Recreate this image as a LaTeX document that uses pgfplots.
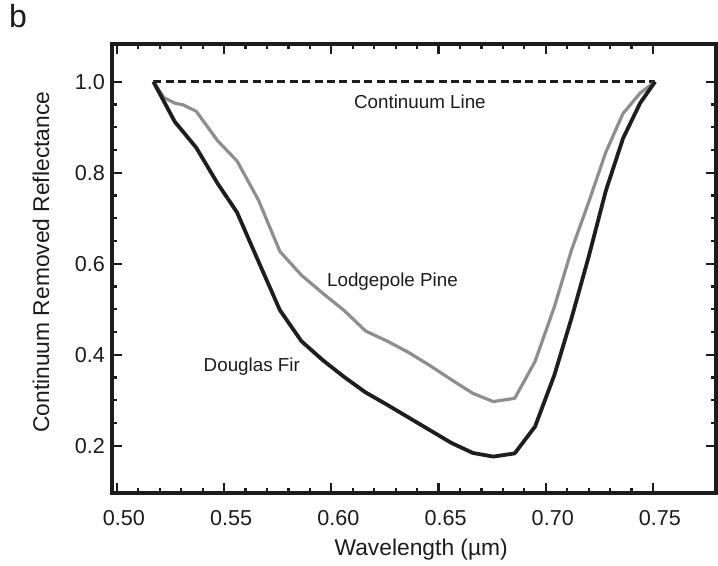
\documentclass[border=0pt]{standalone}
\usepackage{fontspec}
\setmainfont{Liberation Sans}
\usepackage{pgfplots}
\pgfplotsset{compat=1.18}
\definecolor{fir}{HTML}{1E1E1E}
\definecolor{pine}{HTML}{8E8E8E}
\definecolor{ink}{HTML}{1C1C1C}

\begin{document}
\begin{tikzpicture}
\useasboundingbox (-56pt,-36.5pt) rectangle (303pt,246.5pt);
\begin{axis}[
  at={(0,0)}, anchor=south west,
  scale only axis, width=302pt, height=224.5pt,
  xmin=0.4977, xmax=0.7794, ymin=0.096, ymax=1.083,
  axis line style={line width=1.9pt, ink},
  xtick={0.50,0.55,0.60,0.65,0.70,0.75},
  ytick={0.2,0.4,0.6,0.8,1.0},
  minor x tick num=4, minor y tick num=3,
  tick pos=both, tick align=inside,
  major tick length=5pt, minor tick length=2.6pt,
  every tick/.style={ink, line width=1.1pt},
  /pgf/number format/assume math mode=true,
  xticklabel style={/pgf/number format/.cd, fixed, fixed zerofill, precision=2, /tikz/.cd,
    font=\fontsize{10.8}{12}\selectfont, text=ink, anchor=center, yshift=-12.5pt, xshift=3.5pt},
  yticklabel style={/pgf/number format/.cd, fixed, fixed zerofill, precision=1, /tikz/.cd,
    font=\fontsize{10.8}{12}\selectfont, text=ink},
  xlabel={Wavelength (µm)},
  ylabel={Continuum Removed Reflectance},
  every axis x label/.style={at={(axis description cs:0.512,-0.125)}, anchor=center,
    font=\fontsize{11.4}{13}\selectfont, text=ink},
  every axis y label/.style={at={(axis description cs:-0.1175,0.514)}, anchor=center, rotate=90,
    font=\fontsize{11.4}{13}\selectfont, text=ink},
  clip=false,
]
% continuum line
\addplot[ink, line width=1.4pt, dash pattern=on 4pt off 2.2pt] coordinates {(0.517,1.0) (0.751,1.0)};
% Lodgepole Pine
\addplot[pine, line width=1.6pt, line join=round] coordinates {
 (0.517,1.000) (0.522,0.965) (0.527,0.953) (0.531,0.949) (0.537,0.935)
 (0.547,0.870) (0.556,0.826) (0.566,0.740) (0.576,0.627) (0.586,0.575)
 (0.596,0.535) (0.606,0.497) (0.616,0.452) (0.626,0.430) (0.636,0.405)
 (0.646,0.376) (0.656,0.345) (0.666,0.315) (0.6755,0.297) (0.6855,0.304)
 (0.695,0.385) (0.704,0.505) (0.712,0.630) (0.720,0.735) (0.728,0.845)
 (0.736,0.930) (0.744,0.975) (0.751,1.000)};
% Douglas Fir
\addplot[fir, line width=1.9pt, line join=round] coordinates {
 (0.517,1.000) (0.527,0.912) (0.537,0.855) (0.547,0.776) (0.556,0.713)
 (0.566,0.605) (0.576,0.498) (0.586,0.430) (0.596,0.388) (0.606,0.351)
 (0.616,0.317) (0.626,0.290) (0.636,0.262) (0.646,0.234) (0.656,0.206)
 (0.666,0.184) (0.6755,0.176) (0.6855,0.183) (0.695,0.242) (0.704,0.355)
 (0.712,0.480) (0.720,0.615) (0.728,0.760) (0.736,0.875) (0.744,0.953)
 (0.751,1.000)};
\node[font=\fontsize{9.4}{11}\selectfont, text=ink] at (axis cs:0.6413,0.955) {Continuum Line};
\node[font=\fontsize{9.4}{11}\selectfont, text=ink] at (axis cs:0.6285,0.561) {Lodgepole Pine};
\node[font=\fontsize{9.4}{11}\selectfont, text=ink] at (axis cs:0.5629,0.374) {Douglas Fir};
\node[font=\fontsize{16}{18}\selectfont, text=ink] at (axis description cs:-0.1556,1.062) {b};
\end{axis}
\end{tikzpicture}
\end{document}
